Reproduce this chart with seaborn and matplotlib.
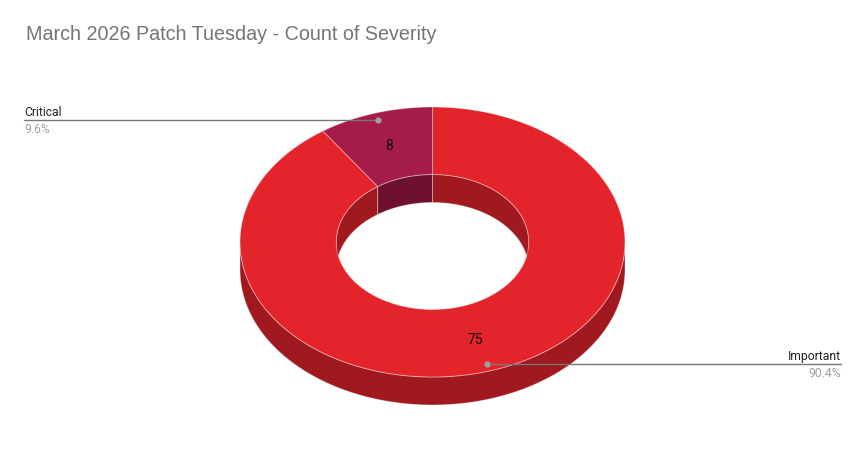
import numpy as np
import matplotlib
matplotlib.use("Agg")
import matplotlib.pyplot as plt
import seaborn as sns
from matplotlib.patches import Polygon

# data
categories = ["Important", "Critical"]
counts = [75, 8]
top_colors = ["#e3242b", "#a51c48"]
side_colors = ["#a0191e", "#6e1131"]
title = "March 2026 Patch Tuesday - Count of Severity"

sns.set_theme(style="white")
plt.rcParams['font.family'] = ['Liberation Sans', 'DejaVu Sans']

# geometry of the 3d donut (pixels)
cx, cy = 432.5, 242
rx, ry = 192.5, 135
hole = 0.5
depth = 28


def pts(t0, t1, r, dy=0, n=120):
    t = np.radians(np.linspace(t0, t1, n))
    return np.column_stack([cx + rx * r * np.cos(t), cy - ry * r * np.sin(t) + dy])


def overlap(a0, a1, lo, hi):
    out = []
    for k in range(-2, 3):
        s, e = max(a0, lo + 360 * k), min(a1, hi + 360 * k)
        if e > s:
            out.append((s, e))
    return out


fig = plt.figure(figsize=(8.65, 4.73), dpi=100)
ax = fig.add_axes([0, 0, 1, 1])
ax.set_xlim(0, 865)
ax.set_ylim(473, 0)
ax.axis("off")

total = sum(counts)
fracs = [c / total for c in counts]
# slices run clockwise from 12 o'clock
spans = []
start = 90.0
for f in fracs:
    end = start - f * 360
    spans.append((end, start))
    start = end

edge = (1, 1, 1, 0.35)

# outer side wall (front half)
for (a0, a1), col in zip(spans, side_colors):
    for s, e in overlap(a0, a1, 180, 360):
        top = pts(s, e, 1)
        bot = pts(e, s, 1, depth)
        ax.add_patch(Polygon(np.vstack([top, bot]), closed=True, fc=col, ec=edge, lw=0.7))

# inner wall (back half, seen through the hole)
for (a0, a1), col in zip(spans, side_colors):
    for s, e in overlap(a0, a1, 0, 180):
        top = pts(s, e, hole)
        bot = pts(e, s, hole, depth)
        ax.add_patch(Polygon(np.vstack([top, bot]), closed=True, fc=col, ec=edge, lw=0.7))

# top face
for (a0, a1), col in zip(spans, top_colors):
    outer = pts(a0, a1, 1)
    inner = pts(a1, a0, hole)
    ax.add_patch(Polygon(np.vstack([outer, inner]), closed=True, fc=col, ec=edge, lw=0.7))

# value labels and leader lines
lab_font = ['Roboto', 'DejaVu Sans']
for i, ((a0, a1), name, c, f) in enumerate(zip(spans, categories, counts, fracs)):
    mid = np.radians((a0 + a1) / 2)
    rm = (1 + hole) / 2
    ax.text(cx + rx * rm * np.cos(mid), cy - ry * rm * np.sin(mid) + 1, str(c),
            ha="center", va="center", fontsize=10, color="#111111", family=lab_font)
    dx = cx + rx * 0.945 * np.cos(mid)
    dy = cy - ry * 0.945 * np.sin(mid)
    ax.plot(dx, dy, "o", ms=3.5, color="#9e9e9e", zorder=5)
    if np.cos(mid) < 0:
        xe, ha = 24, "left"
    else:
        xe, ha = 841, "right"
    ax.plot([dx, xe], [dy, dy], color="#777777", lw=1, zorder=4)
    ax.text(xe, dy - 4, name, ha=ha, va="baseline", fontsize=8.7, color="#222222", family=lab_font)
    ax.text(xe, dy + 13, f"{f * 100:.1f}%", ha=ha, va="baseline", fontsize=8.7, color="#9e9e9e",
            family=lab_font)

ax.text(26, 40, title, ha="left", va="baseline", fontsize=14.2, color="#757575")

fig.savefig("out.png", dpi=100, facecolor="white")
